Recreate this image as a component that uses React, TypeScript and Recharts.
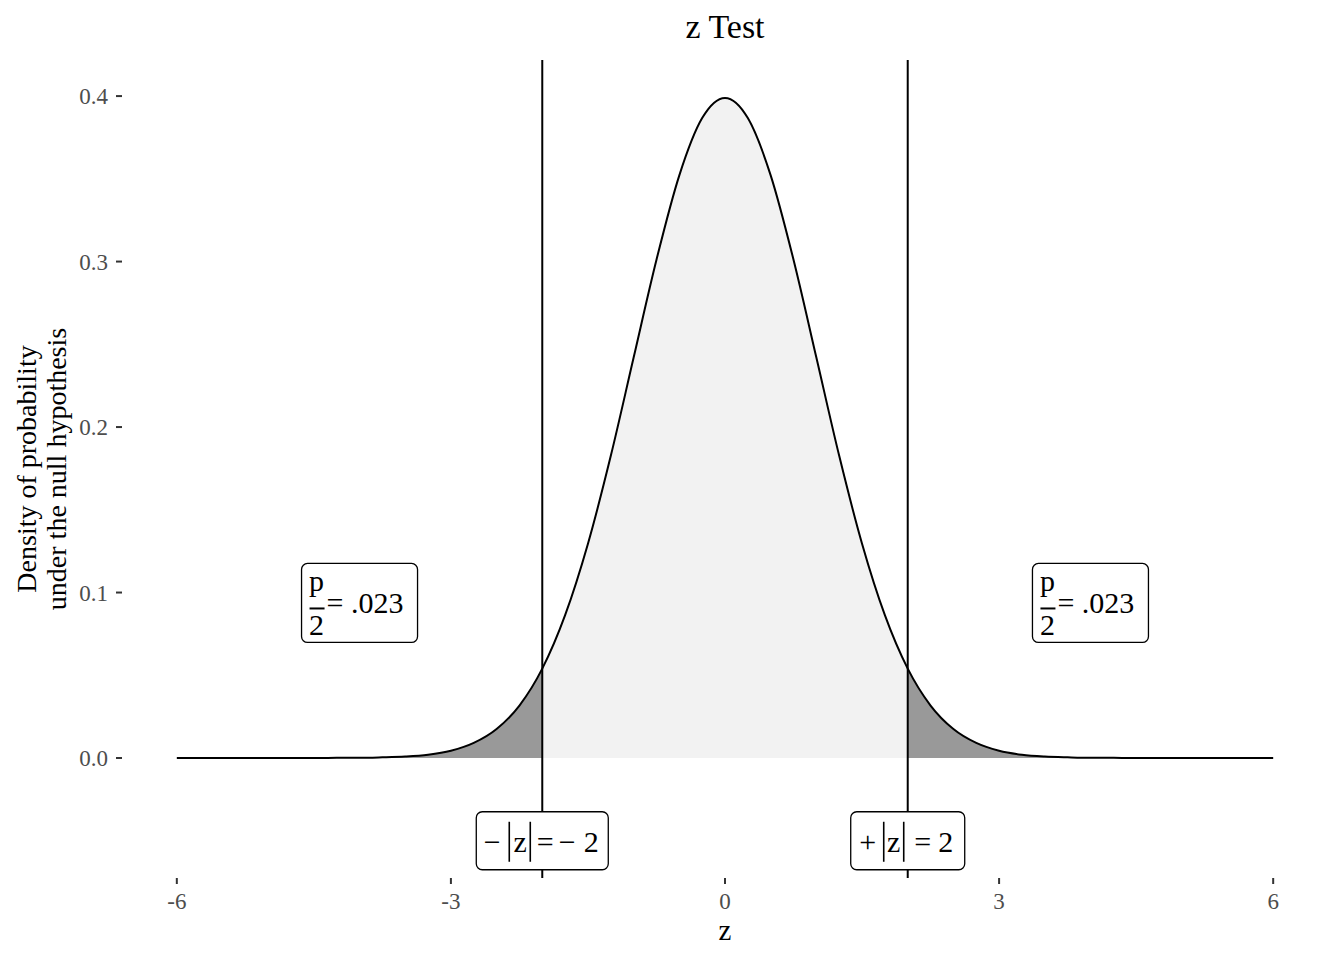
import React from "react";
import {
  ComposedChart,
  XAxis,
  YAxis,
  Area,
  Line,
  ReferenceLine,
  ReferenceDot
} from "recharts";

// z grid and standard normal density
const zValues = [
  -6, -5.75, -5.5, -5.25, -5, -4.75, -4.5, -4.25, -4, -3.75, -3.5, -3.25, -3,
  -2.75, -2.5, -2.25, -2, -1.75, -1.5, -1.25, -1, -0.75, -0.5, -0.25, 0, 0.25,
  0.5, 0.75, 1, 1.25, 1.5, 1.75, 2, 2.25, 2.5, 2.75, 3, 3.25, 3.5, 3.75, 4,
  4.25, 4.5, 4.75, 5, 5.25, 5.5, 5.75, 6
];
const density = [
  0, 0, 0, 0, 0, 0, 0, 0.0001, 0.0001, 0.0004, 0.0009, 0.002, 0.0044, 0.0091,
  0.0175, 0.0317, 0.054, 0.0863, 0.1295, 0.1826, 0.242, 0.3011, 0.3521, 0.3867,
  0.3989, 0.3867, 0.3521, 0.3011, 0.242, 0.1826, 0.1295, 0.0863, 0.054, 0.0317,
  0.0175, 0.0091, 0.0044, 0.002, 0.0009, 0.0004, 0.0001, 0.0001, 0, 0, 0, 0, 0,
  0, 0
];
const criticalZ = [-2, 2];
const xTicks = [-6, -3, 0, 3, 6];
const yTicks = [0, 0.1, 0.2, 0.3, 0.4];
// annotation anchors
const pLabelX = [-4, 4];
const pLabelY = 0.094;
const zLabelY = -0.05;

const data = zValues.map((z, i) => ({
  z,
  d: density[i],
  left: z <= criticalZ[0] ? density[i] : null,
  mid: z >= criticalZ[0] && z <= criticalZ[1] ? density[i] : null,
  right: z >= criticalZ[1] ? density[i] : null
}));

const FONT = '"Liberation Serif", "Times New Roman", serif';
const LABEL_SIZE = 30;

const PLabel = (props: any) => {
  const { cx, cy } = props;
  return (
    <g transform={`translate(${cx},${cy})`} fontFamily={FONT} fill="#000">
      <rect x={-58} y={-39} width={116} height={79} rx={6} fill="#fff" stroke="#000" strokeWidth={1.3} />
      <text x={-43} y={-11} fontSize={LABEL_SIZE} textAnchor="middle">p</text>
      <line x1={-50} x2={-35} y1={6} y2={6} stroke="#000" strokeWidth={2} />
      <text x={-43} y={33} fontSize={LABEL_SIZE} textAnchor="middle">2</text>
      <text x={-33} y={11} fontSize={LABEL_SIZE}>= .023</text>
    </g>
  );
};

const Bars = ({ a, b }: { a: number; b: number }) => (
  <>
    <line x1={a} x2={a} y1={-19} y2={21} stroke="#000" strokeWidth={1.6} />
    <line x1={b} x2={b} y1={-19} y2={21} stroke="#000" strokeWidth={1.6} />
  </>
);

const ZLabelNeg = (props: any) => {
  const { cx, cy } = props;
  return (
    <g transform={`translate(${cx},${cy})`} fontFamily={FONT} fill="#000">
      <rect x={-66} y={-29} width={132} height={58} rx={6} fill="#fff" stroke="#000" strokeWidth={1.3} />
      <text x={-50} y={11} fontSize={LABEL_SIZE} textAnchor="middle">−</text>
      <Bars a={-33} b={-12} />
      <text x={-22} y={11} fontSize={LABEL_SIZE} textAnchor="middle">z</text>
      <text x={3} y={11} fontSize={LABEL_SIZE} textAnchor="middle">=</text>
      <text x={25} y={11} fontSize={LABEL_SIZE} textAnchor="middle">−</text>
      <text x={49} y={11} fontSize={LABEL_SIZE} textAnchor="middle">2</text>
    </g>
  );
};

const ZLabelPos = (props: any) => {
  const { cx, cy } = props;
  return (
    <g transform={`translate(${cx},${cy})`} fontFamily={FONT} fill="#000">
      <rect x={-57} y={-29} width={114} height={58} rx={6} fill="#fff" stroke="#000" strokeWidth={1.3} />
      <text x={-40} y={11} fontSize={LABEL_SIZE} textAnchor="middle">+</text>
      <Bars a={-24} b={-4} />
      <text x={-14} y={11} fontSize={LABEL_SIZE} textAnchor="middle">z</text>
      <text x={15} y={11} fontSize={LABEL_SIZE} textAnchor="middle">=</text>
      <text x={38} y={11} fontSize={LABEL_SIZE} textAnchor="middle">2</text>
    </g>
  );
};

export default function App() {
  return (
    <div style={{ position: "absolute", left: 0, top: 0, width: 1344, height: 960, background: "#fff" }}>
      <ComposedChart
        width={1344}
        height={960}
        data={data}
        margin={{ top: 60, right: 16, bottom: 0, left: 0 }}
      >
        <XAxis
          dataKey="z"
          type="number"
          domain={[-6.6, 6.6]}
          ticks={xTicks}
          allowDataOverflow
          axisLine={false}
          tickSize={6}
          tickMargin={9}
          height={82}
          tickLine={{ stroke: "#333", strokeWidth: 2 }}
          tick={{ fill: "#4d4d4d", fontSize: 23, fontFamily: FONT }}
        />
        <YAxis
          type="number"
          domain={[-0.0725, 0.4218]}
          ticks={yTicks}
          allowDataOverflow
          axisLine={false}
          width={122}
          tickSize={6}
          tickMargin={8}
          tickFormatter={(v: number) => v.toFixed(1)}
          tickLine={{ stroke: "#333", strokeWidth: 2 }}
          tick={{ fill: "#4d4d4d", fontSize: 23, fontFamily: FONT }}
        />
        <Area type="monotone" dataKey="mid" baseValue={0} stroke="none" fill="#f2f2f2" fillOpacity={1} isAnimationActive={false} />
        <Area type="monotone" dataKey="left" baseValue={0} stroke="none" fill="#999999" fillOpacity={1} isAnimationActive={false} />
        <Area type="monotone" dataKey="right" baseValue={0} stroke="none" fill="#999999" fillOpacity={1} isAnimationActive={false} />
        <Line type="monotone" dataKey="d" stroke="#000" strokeWidth={2} dot={false} isAnimationActive={false} />
        {criticalZ.map((c) => (
          <ReferenceLine key={c} x={c} stroke="#000" strokeWidth={2} />
        ))}
        {pLabelX.map((x) => (
          <ReferenceDot key={x} x={x} y={pLabelY} ifOverflow="visible" shape={PLabel} />
        ))}
        <ReferenceDot x={criticalZ[0]} y={zLabelY} ifOverflow="visible" shape={ZLabelNeg} />
        <ReferenceDot x={criticalZ[1]} y={zLabelY} ifOverflow="visible" shape={ZLabelPos} />
      </ComposedChart>
      <svg
        width={1344}
        height={960}
        style={{ position: "absolute", left: 0, top: 0, pointerEvents: "none" }}
        fontFamily={FONT}
      >
        <text x={725} y={38} fontSize={34} textAnchor="middle" fill="#000">z Test</text>
        <text x={725} y={940} fontSize={29} textAnchor="middle" fill="#000">z</text>
        <g transform="translate(26,469) rotate(-90)">
          <text x={0} y={0} fontSize={28} textAnchor="middle" dominantBaseline="central" fill="#000">Density of probability</text>
        </g>
        <g transform="translate(56,469) rotate(-90)">
          <text x={0} y={0} fontSize={28} textAnchor="middle" dominantBaseline="central" fill="#000">under the null hypothesis</text>
        </g>
      </svg>
    </div>
  );
}
